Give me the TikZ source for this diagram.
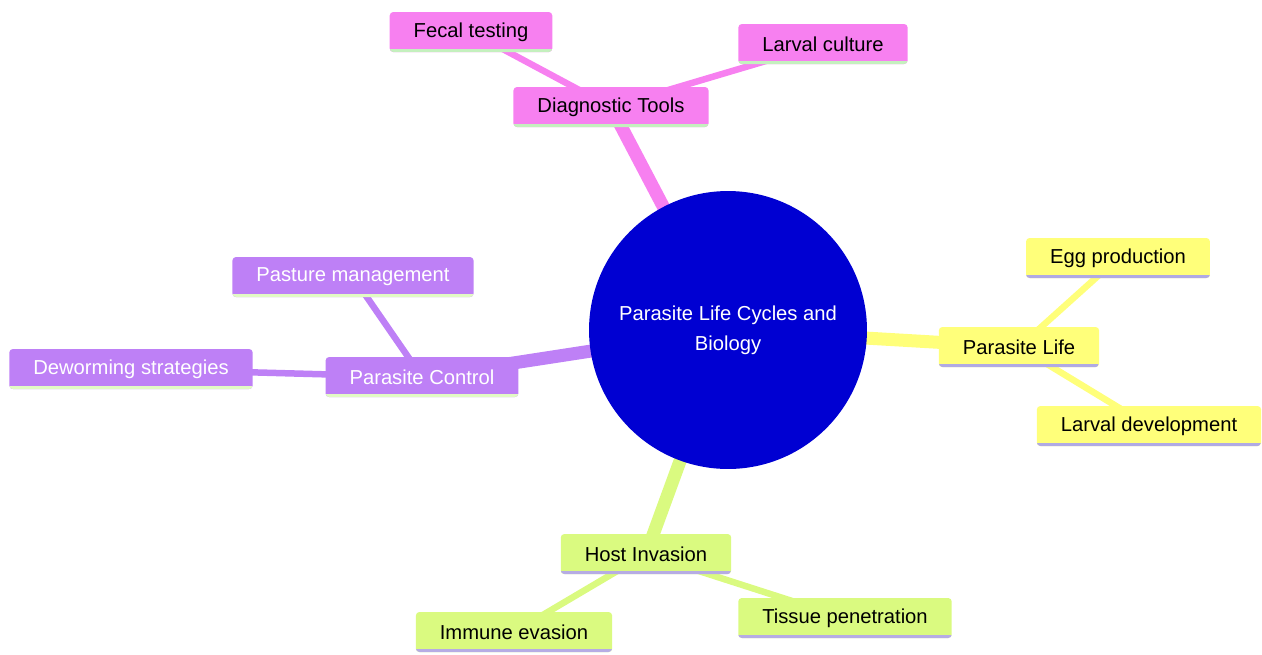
\documentclass[tikz,border=0pt]{standalone}
\usepackage{fontspec}
\setmainfont{Liberation Sans}
\usetikzlibrary{backgrounds}
\definecolor{pinkfill}{RGB}{247,128,240}
\definecolor{pinkline}{RGB}{196,240,190}
\definecolor{purplefill}{RGB}{190,128,246}
\definecolor{purpleline}{RGB}{226,250,196}
\definecolor{yellowfill}{RGB}{255,255,122}
\definecolor{yellowline}{RGB}{176,170,228}
\definecolor{greenfill}{RGB}{218,250,128}
\definecolor{greenline}{RGB}{182,172,228}
\definecolor{rootblue}{RGB}{0,0,210}
\tikzset{
	box/.style={rectangle, rounded corners=2pt, minimum height=0.8cm, inner xsep=0.48cm, inner ysep=0pt, font=\fontsize{11.5}{14}\selectfont},
	underline/.style={path picture={\draw[#1, line width=3.4pt] (path picture bounding box.south west) -- (path picture bounding box.south east);}},
	pinkbox/.style={box, fill=pinkfill, text=black, underline=pinkline},
	purplebox/.style={box, fill=purplefill, text=white, underline=purpleline},
	yellowbox/.style={box, fill=yellowfill, text=black, underline=yellowline},
	greenbox/.style={box, fill=greenfill, text=black, underline=greenline},
	trunk/.style={line width=0.26cm},
	twig/.style={line width=0.13cm},
}
\begin{document}
\begin{tikzpicture}[x=0.02cm, y=-0.02cm]
		%%%%% START %%%%%
		\useasboundingbox (0, 0) rectangle (1262, 654);
		
		\node[circle, fill=rootblue, minimum size=5.56cm, text=white, align=center, font=\fontsize{11.5}{17}\selectfont] (root) at (728, 330) {Parasite Life Cycles and\\Biology};
		
		\node[pinkbox] (diag) at (611, 107) {Diagnostic Tools};
		\node[pinkbox] (fecal) at (471, 32) {Fecal testing};
		\node[pinkbox] (culture) at (823, 44) {Larval culture};
		
		\node[yellowbox] (life) at (1019, 347) {Parasite Life};
		\node[yellowbox] (egg) at (1118, 258) {Egg production};
		\node[yellowbox] (devel) at (1149, 426) {Larval development};
		
		\node[purplebox] (control) at (422, 377) {Parasite Control};
		\node[purplebox] (pasture) at (353, 277) {Pasture management};
		\node[purplebox] (deworm) at (131, 369) {Deworming strategies};
		
		\node[greenbox] (host) at (646, 554) {Host Invasion};
		\node[greenbox] (immune) at (514, 632) {Immune evasion};
		\node[greenbox] (tissue) at (845, 618) {Tissue penetration};
		
		\begin{scope}[on background layer]
			\draw[trunk, pinkfill] (root.center) -- (diag.center);
			\draw[twig, pinkfill] (diag.center) -- (fecal.center);
			\draw[twig, pinkfill] (diag.center) -- (culture.center);
			
			\draw[trunk, yellowfill] (root.center) -- (life.center);
			\draw[twig, yellowfill] (life.center) -- (egg.center);
			\draw[twig, yellowfill] (life.center) -- (devel.center);
			
			\draw[trunk, purplefill] (root.center) -- (control.center);
			\draw[twig, purplefill] (control.center) -- (pasture.center);
			\draw[twig, purplefill] (control.center) -- (deworm.center);
			
			\draw[trunk, greenfill] (root.center) -- (host.center);
			\draw[twig, greenfill] (host.center) -- (immune.center);
			\draw[twig, greenfill] (host.center) -- (tissue.center);
		\end{scope}
		
		%%%%% END %%%%%
	\end{tikzpicture}
\end{document}
